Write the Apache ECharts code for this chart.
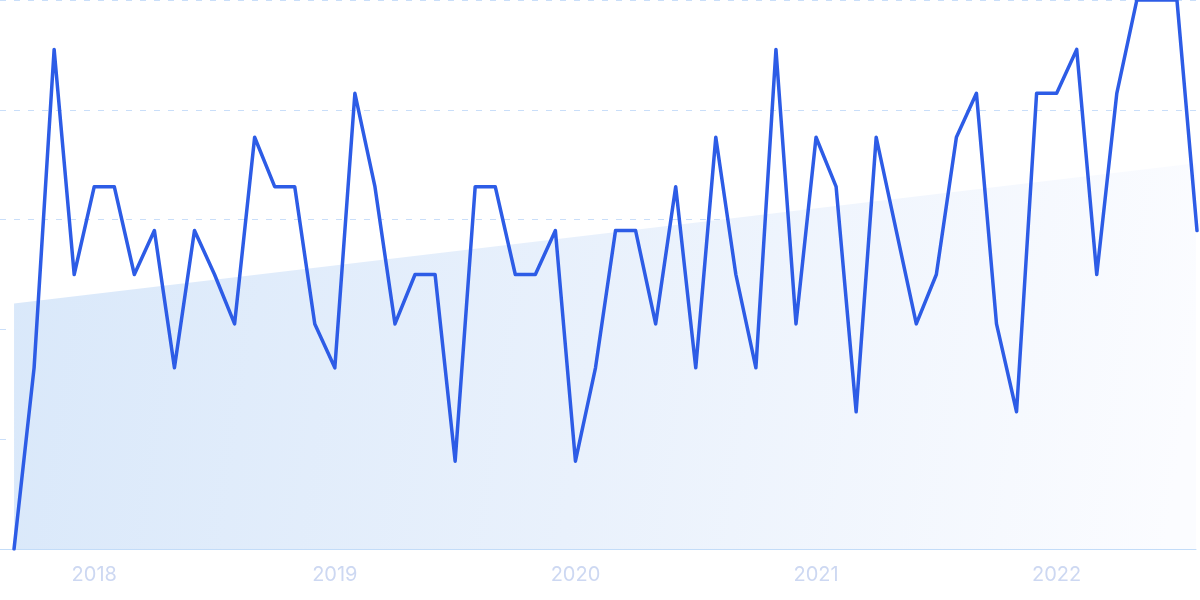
<!DOCTYPE html>
<html>
<head>
<meta charset="utf-8">
<script src="https://cdn.jsdelivr.net/npm/echarts@6/dist/echarts.min.js"></script>
<style>
  html, body { margin: 0; padding: 0; background: #ffffff; }
  #chart { width: 1200px; height: 600px; }
</style>
</head>
<body>
<div id="chart"></div>
<script>
// Monthly values, Sep 2017 .. Aug 2022
const values = [
  0, 33, 91, 50, 66, 66, 50, 58, 33, 58,
  50, 41, 75, 66, 66, 41, 33, 83, 66, 41,
  50, 50, 16, 66, 66, 50, 50, 58, 16, 33,
  58, 58, 41, 66, 33, 75, 50, 33, 91, 41,
  75, 66, 25, 75, 58, 41, 50, 75, 83, 41,
  25, 83, 83, 91, 50, 83, 100, 100, 100, 58
];
// Trend line endpoints (month index, value)
const trendX = [0, 59.05];
const trendY = [44.7, 70.3];
// Year tick labels and the month index where each year starts
const yearLabels = ['2018', '2019', '2020', '2021', '2022'];
const yearIndex = [4, 16, 28, 40, 52];

const lineData = values.map((v, i) => [i, v]);
const trendData = trendX.map((x, i) => [x, trendY[i]]);

const chart = echarts.init(document.getElementById('chart'), null, { renderer: 'canvas' });
chart.setOption({
  animation: false,
  backgroundColor: '#ffffff',
  grid: { left: 0, right: 4, top: 0, bottom: 51, containLabel: false },
  xAxis: {
    type: 'value',
    min: -0.7,
    max: 58.95,
    axisLine: { show: true, lineStyle: { color: '#c3dcf8', width: 1 } },
    axisTick: { show: false },
    splitLine: { show: false },
    axisLabel: {
      customValues: yearIndex,
      formatter: (v) => {
        const k = yearIndex.indexOf(Math.round(v));
        return k >= 0 ? yearLabels[k] : '';
      },
      color: '#cdd8f2',
      fontSize: 20,
      fontFamily: 'Inter',
      margin: 16
    }
  },
  yAxis: {
    type: 'value',
    min: 0,
    max: 100,
    interval: 20,
    axisLine: { show: false },
    axisTick: { show: false },
    axisLabel: { show: false },
    splitLine: {
      show: true,
      lineStyle: { color: 'rgba(165,200,245,0.6)', width: 1, type: [6, 8] }
    }
  },
  series: [
    {
      type: 'line',
      data: trendData,
      showSymbol: false,
      symbol: 'none',
      lineStyle: { width: 0, opacity: 0 },
      areaStyle: {
        opacity: 1,
        color: {
          type: 'linear', x: 0, y: 0, x2: 1, y2: 0.45,
          colorStops: [
            { offset: 0, color: '#d9e8fa' },
            { offset: 0.5, color: '#e9f1fc' },
            { offset: 1, color: '#fbfcff' }
          ]
        }
      },
      z: 1,
      silent: true
    },
    {
      type: 'line',
      data: lineData,
      showSymbol: false,
      symbol: 'none',
      lineStyle: { color: '#2d5ce6', width: 3.5, join: 'round', cap: 'round' },
      z: 3
    }
  ]
});
</script>
</body>
</html>
